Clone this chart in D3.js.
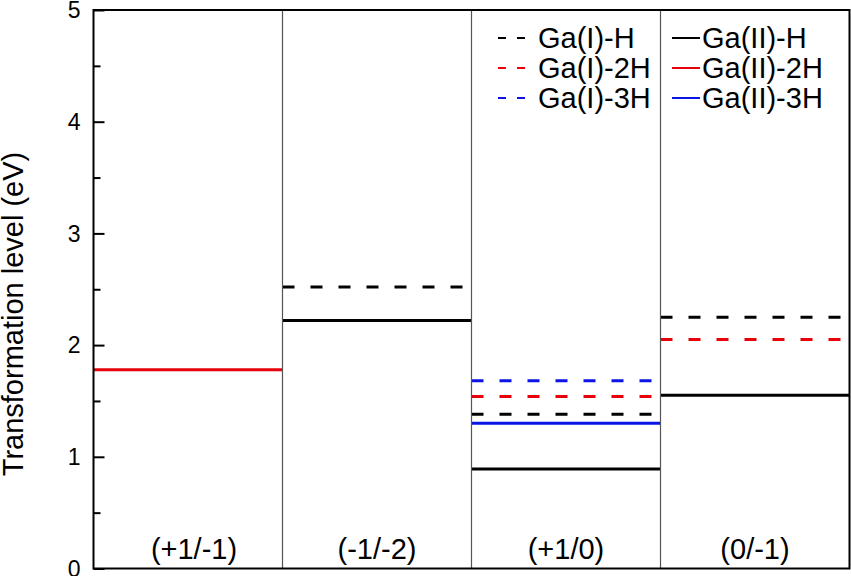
<!DOCTYPE html>
<html>
<head>
<meta charset="utf-8">
<script src="https://cdn.jsdelivr.net/npm/d3@7"></script>
<style>
  body { margin: 0; background: #fff; }
  svg { font-family: "Liberation Sans", Arial, sans-serif; }
</style>
</head>
<body>
<svg id="chart" width="851" height="576"></svg>
<script>
const categories = ['(+1/-1)', '(-1/-2)', '(+1/0)', '(0/-1)'];
const seriesNames = ['Ga(I)-H', 'Ga(I)-2H', 'Ga(I)-3H', 'Ga(II)-H', 'Ga(II)-2H', 'Ga(II)-3H'];
const gaIH = [null, 2.52, 1.38, 2.25];
const gaI2H = [null, null, 1.54, 2.05];
const gaI3H = [null, null, 1.68, null];
const gaIIH = [null, 2.22, 0.89, 1.55];
const gaII2H = [1.78, null, null, null];
const gaII3H = [null, null, 1.30, null];
const yTicks = [0, 1, 2, 3, 4, 5];

const values = [gaIH, gaI2H, gaI3H, gaIIH, gaII2H, gaII3H];
const colors = ['#000', '#e8000b', '#0a14e6', '#000', '#e8000b', '#0a14e6'];
const dashed = [true, true, true, false, false, false];

const svg = d3.select('#chart');
const mLeft = 93.5, mRight = 849.5, mTop = 10, mBottom = 568.5;

const x = d3.scaleBand().domain(categories).range([mLeft, mRight]).padding(0);
const y = d3.scaleLinear().domain([0, 5]).range([mBottom, mTop]);

// level lines
const series = seriesNames.map((name, i) => ({
  name, color: colors[i], dashed: dashed[i],
  points: categories.map((c, j) => ({ c, v: values[i][j] })).filter(p => p.v != null)
}));

series.forEach(s => {
  svg.append('g')
    .selectAll('line')
    .data(s.points)
    .join('line')
    .attr('x1', d => x(d.c))
    .attr('x2', d => x(d.c) + x.bandwidth())
    .attr('y1', d => y(d.v))
    .attr('y2', d => y(d.v))
    .attr('stroke', s.color)
    .attr('stroke-width', 3)
    .attr('stroke-dasharray', s.dashed ? '12,16' : null);
});

// panel dividers
svg.append('g')
  .selectAll('line')
  .data(categories.slice(1))
  .join('line')
  .attr('x1', d => x(d)).attr('x2', d => x(d))
  .attr('y1', mTop).attr('y2', mBottom)
  .attr('stroke', '#555')
  .attr('stroke-width', 1.2);

// category labels
svg.append('g')
  .selectAll('text')
  .data(categories)
  .join('text')
  .attr('x', (d, i) => x(d) + x.bandwidth() / 2 + (i === 0 ? 6 : 0))
  .attr('y', 559)
  .attr('text-anchor', 'middle')
  .attr('font-size', 29)
  .text(d => d);

// frame
svg.append('rect')
  .attr('x', mLeft).attr('y', mTop)
  .attr('width', mRight - mLeft).attr('height', mBottom - mTop)
  .attr('fill', 'none')
  .attr('stroke', '#000')
  .attr('stroke-width', 2);

// y axis ticks (inward)
const axis = svg.append('g').attr('transform', `translate(${mLeft},0)`);
axis.append('g')
  .call(d3.axisRight(y).tickValues(d3.range(0.5, 5, 1)).tickSize(7).tickFormat(''))
  .call(g => g.select('.domain').remove())
  .call(g => g.selectAll('line').attr('stroke-width', 2));
axis.append('g')
  .call(d3.axisRight(y).tickValues(yTicks).tickSize(11).tickFormat(''))
  .call(g => g.select('.domain').remove())
  .call(g => g.selectAll('line').attr('stroke-width', 2));

svg.append('g')
  .selectAll('text')
  .data(yTicks)
  .join('text')
  .attr('x', mLeft - 13)
  .attr('y', d => y(d))
  .attr('dy', '0.36em')
  .attr('text-anchor', 'end')
  .attr('font-size', 23)
  .text(d => d);

svg.append('text')
  .attr('transform', 'translate(23,314) rotate(-90)')
  .attr('text-anchor', 'middle')
  .attr('font-size', 29)
  .text('Transformation level (eV)');

// legend
const legend = svg.append('g')
  .selectAll('g')
  .data(series)
  .join('g')
  .attr('transform', (d, i) => `translate(${i < 3 ? 498 : 672},${38 + (i % 3) * 30})`);

legend.append('line')
  .attr('x1', 0).attr('x2', (d, i) => i < 3 ? 30 : 28)
  .attr('stroke', d => d.color)
  .attr('stroke-width', 2)
  .attr('stroke-dasharray', d => d.dashed ? '8,11' : null);

legend.append('text')
  .attr('x', (d, i) => i < 3 ? 40 : 30)
  .attr('dy', '0.36em')
  .attr('font-size', 29)
  .text(d => d.name);
</script>
</body>
</html>
